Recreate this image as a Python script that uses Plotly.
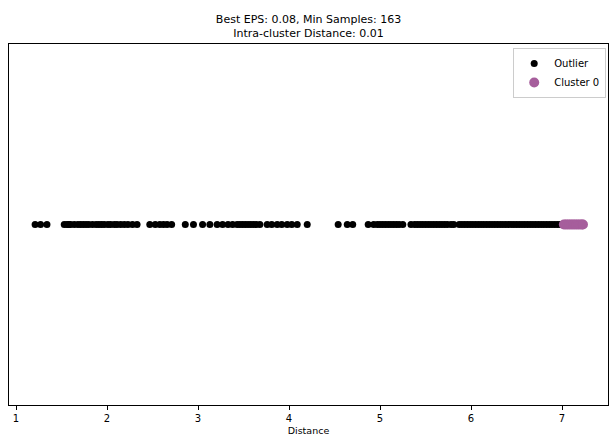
import plotly.graph_objects as go

outlier_x = [
    1.21, 1.27, 1.34,
    1.53, 1.56, 1.58, 1.60, 1.64, 1.68, 1.71, 1.74, 1.77, 1.80, 1.84, 1.88, 1.91, 1.94, 1.97,
    2.01, 2.04, 2.08, 2.11, 2.15, 2.19, 2.23, 2.28, 2.33,
    2.47, 2.53, 2.58, 2.62, 2.66, 2.71,
    2.86, 2.95, 3.05, 3.13, 3.21,
    3.27, 3.33, 3.38, 3.43, 3.46, 3.49, 3.52, 3.55, 3.58, 3.61, 3.64, 3.68,
    3.76, 3.81, 3.87, 3.92, 3.98, 4.03, 4.09, 4.20,
    4.54, 4.64, 4.70,
    4.87, 4.93, 4.97, 5.00, 5.03, 5.06, 5.09, 5.12, 5.15, 5.18, 5.21, 5.25,
    5.34, 5.38, 5.41, 5.44, 5.47, 5.50, 5.53, 5.56, 5.59, 5.62, 5.65, 5.68, 5.71, 5.74, 5.78, 5.81,
    5.87, 5.90, 5.93, 5.96, 5.99, 6.02, 6.05, 6.08, 6.11, 6.14, 6.17, 6.20, 6.23, 6.26, 6.29,
    6.32, 6.35, 6.38, 6.41, 6.44, 6.47, 6.50, 6.53, 6.56, 6.59, 6.62, 6.65, 6.68, 6.71, 6.74,
    6.77, 6.80, 6.83, 6.86, 6.89, 6.92, 6.95, 6.98,
]
outlier_y = [0] * len(outlier_x)

cluster0_x = [
    7.02, 7.04, 7.06, 7.08, 7.10, 7.12, 7.14, 7.16, 7.18, 7.20, 7.22, 7.23,
]
cluster0_y = [0] * len(cluster0_x)

title_text = "Best EPS: 0.08, Min Samples: 163<br>Intra-cluster Distance: 0.01"
x_ticks = [1, 2, 3, 4, 5, 6, 7]

font_family = "DejaVu Sans"

fig = go.Figure()
fig.add_trace(go.Scatter(
    x=outlier_x, y=outlier_y, mode="markers", name="Outlier",
    marker=dict(color="black", size=7, line=dict(width=0)),
))
fig.add_trace(go.Scatter(
    x=cluster0_x, y=cluster0_y, mode="markers", name="Cluster 0",
    marker=dict(color="#a65e9c", size=10, line=dict(width=0)),
))

fig.update_layout(
    width=609, height=439,
    margin=dict(l=9, r=1, t=44, b=34, autoexpand=False),
    paper_bgcolor="white", plot_bgcolor="white",
    font=dict(family=font_family, size=10, color="black"),
    title=dict(text=title_text, x=0.5, xref="paper", xanchor="center",
               y=1, yref="paper", yanchor="bottom", pad=dict(b=21),
               font=dict(size=11, color="black")),
    legend=dict(x=0.997, y=0.989, xanchor="right", yanchor="top",
                bgcolor="white", bordercolor="#cccccc", borderwidth=1,
                font=dict(size=10)),
    showlegend=True,
)
fig.update_xaxes(
    range=[0.923, 7.505], tickvals=x_ticks, ticks="outside", ticklen=4,
    tickcolor="black", showline=True, linecolor="black", linewidth=1, mirror=True,
    showgrid=False, zeroline=False, tickfont=dict(size=10),
    title=dict(text="Distance", standoff=4, font=dict(size=9.5)),
)
fig.update_yaxes(
    range=[-1, 1], showticklabels=False, ticks="", showline=True,
    linecolor="black", linewidth=1, mirror=True, showgrid=False, zeroline=False,
)

fig.write_html(
    "out.html",
    config={"displayModeBar": False},
    post_script="document.body.style.margin='0px';document.body.style.overflow='hidden';",
)
